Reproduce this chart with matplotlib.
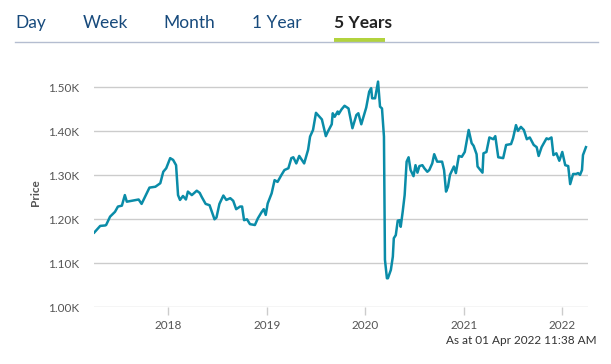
import matplotlib.pyplot as plt

# 5 year price history (decimal year, price)
years = [
    2017.25, 2017.31, 2017.36, 2017.37, 2017.41, 2017.46, 2017.49, 2017.53, 2017.56, 2017.58,
    2017.63, 2017.70, 2017.73, 2017.81, 2017.87, 2017.92, 2017.95, 2017.98, 2018.02, 2018.05,
    2018.08, 2018.10, 2018.12, 2018.15, 2018.18, 2018.20, 2018.24, 2018.29, 2018.32, 2018.34,
    2018.38, 2018.42, 2018.47, 2018.49, 2018.52, 2018.56, 2018.59, 2018.63, 2018.66, 2018.69,
    2018.73, 2018.75, 2018.77, 2018.80, 2018.83, 2018.88, 2018.91, 2018.95, 2018.97, 2018.99,
    2019.01, 2019.05, 2019.08, 2019.11, 2019.15, 2019.18, 2019.22, 2019.25, 2019.27, 2019.30,
    2019.33, 2019.38, 2019.42, 2019.44, 2019.47, 2019.50, 2019.52, 2019.56, 2019.60, 2019.62,
    2019.66, 2019.67, 2019.69, 2019.72, 2019.73, 2019.76, 2019.79, 2019.83, 2019.87, 2019.91,
    2019.93, 2019.96, 2020.01, 2020.04, 2020.06, 2020.07, 2020.10, 2020.13, 2020.15, 2020.17,
    2020.19, 2020.20, 2020.22, 2020.23, 2020.26, 2020.28, 2020.29, 2020.31, 2020.33, 2020.35,
    2020.36, 2020.38, 2020.40, 2020.42, 2020.44, 2020.46, 2020.49, 2020.51, 2020.53, 2020.55,
    2020.58, 2020.60, 2020.63, 2020.65, 2020.68, 2020.70, 2020.73, 2020.76, 2020.78, 2020.80,
    2020.82, 2020.84, 2020.86, 2020.90, 2020.92, 2020.95, 2020.98, 2021.01, 2021.05, 2021.08,
    2021.10, 2021.13, 2021.14, 2021.19, 2021.20, 2021.23, 2021.26, 2021.30, 2021.32, 2021.35,
    2021.40, 2021.43, 2021.48, 2021.50, 2021.53, 2021.55, 2021.58, 2021.61, 2021.64, 2021.67,
    2021.71, 2021.74, 2021.76, 2021.79, 2021.84, 2021.86, 2021.89, 2021.91, 2021.94, 2021.97,
    2022.00, 2022.03, 2022.06, 2022.08, 2022.11, 2022.14, 2022.16, 2022.18, 2022.20, 2022.21,
    2022.24,
]
prices = [
    1170, 1185, 1186, 1187, 1206, 1217, 1229, 1231, 1255, 1240,
    1242, 1245, 1235, 1272, 1274, 1282, 1308, 1316, 1339, 1335,
    1323, 1255, 1244, 1253, 1245, 1263, 1255, 1265, 1260, 1251,
    1235, 1232, 1200, 1204, 1235, 1254, 1244, 1248, 1242, 1223,
    1229, 1229, 1198, 1200, 1189, 1187, 1202, 1217, 1223, 1210,
    1236, 1259, 1289, 1285, 1301, 1312, 1316, 1339, 1341, 1327,
    1344, 1327, 1358, 1388, 1403, 1442, 1437, 1427, 1389, 1399,
    1416, 1441, 1433, 1445, 1439, 1450, 1458, 1452, 1407, 1437,
    1441, 1416, 1454, 1490, 1498, 1475, 1475, 1513, 1456, 1452,
    1388, 1108, 1066, 1066, 1085, 1115, 1157, 1164, 1197, 1198,
    1183, 1217, 1255, 1331, 1341, 1312, 1298, 1323, 1306, 1321,
    1323, 1316, 1308, 1312, 1327, 1348, 1331, 1331, 1331, 1312,
    1263, 1274, 1301, 1320, 1305, 1344, 1342, 1353, 1403, 1373,
    1367, 1348, 1320, 1306, 1350, 1353, 1386, 1382, 1389, 1341,
    1339, 1369, 1371, 1384, 1414, 1401, 1410, 1403, 1382, 1386,
    1369, 1364, 1344, 1364, 1384, 1382, 1386, 1346, 1350, 1333,
    1353, 1323, 1321, 1280, 1303, 1303, 1305, 1301, 1312, 1346,
    1364,
]

tabs = ['Day', 'Week', 'Month', '1 Year', '5 Years']
tab_x = [15, 83, 163, 252, 334]
y_ticks = [1000, 1100, 1200, 1300, 1400, 1500]
y_labels = ['1.00K', '1.10K', '1.20K', '1.30K', '1.40K', '1.50K']
x_ticks = [2018, 2019, 2020, 2021, 2022]

plt.rcParams['font.family'] = ['Lato', 'DejaVu Sans']

W, H = 611, 364
fig = plt.figure(figsize=(W / 100, H / 100), dpi=100)
ax = fig.add_axes([94 / W, 1 - 307.3 / H, (588.3 - 94) / W, (307.3 - 78.5) / H])

ax.plot(years, prices, color='#0a8ca8', linewidth=1.8, solid_joinstyle='round')
ax.set_xlim(2017.247, 2022.264)
ax.set_ylim(1000, 1520)

ax.set_yticks(y_ticks)
ax.set_yticklabels(y_labels)
ax.set_xticks(x_ticks)
ax.set_xticklabels([str(x) for x in x_ticks])
ax.grid(axis='y', color='#cccccc', linewidth=1)
ax.set_axisbelow(True)
for s in ax.spines.values():
    s.set_visible(False)
ax.tick_params(axis='y', length=0, pad=11, labelsize=8.5, labelcolor='#555555')
ax.tick_params(axis='x', length=6, width=1, color='#cccccc', pad=3, labelsize=8.5, labelcolor='#555555')
ax.set_ylabel('Price', fontsize=8.5, fontweight='bold', color='#555555')
ax.yaxis.set_label_coords(-0.107, 0.5)

# tab bar
for name, x in zip(tabs, tab_x):
    sel = name == '5 Years'
    fig.text(x / W, 1 - 23 / H, name, fontsize=12.5, va='center', ha='left',
             color='#222222' if sel else '#174a7c', fontweight='bold' if sel else 'normal')
fig.add_artist(plt.Line2D([15 / W, 598 / W], [1 - 42.3 / H] * 2, color='#b4bdd0', linewidth=1))
fig.add_artist(plt.Rectangle((334 / W, 1 - 42.5 / H), 51 / W, 5 / H, color='#b2d33d', linewidth=0))

fig.text(597 / W, 1 - 341 / H, 'As at 01 Apr 2022 11:38 AM', fontsize=8.5, ha='right', va='center',
         color='#333333')

fig.savefig('out.png', dpi=100)
